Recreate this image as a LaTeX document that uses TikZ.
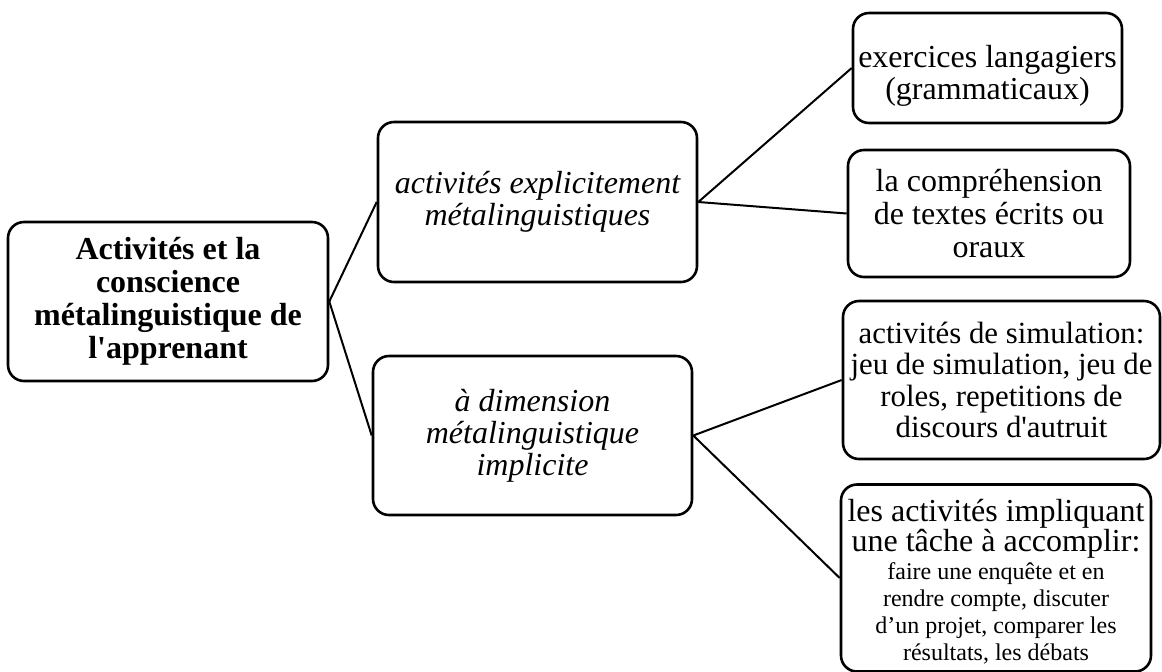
\documentclass[tikz,border=0pt]{standalone}
\usepackage{fontspec}
\setmainfont{Liberation Serif}
\usepackage{tikz}
\usetikzlibrary{positioning}
\newcommand{\smtxt}{\fontsize{12}{13.5}\selectfont}
\tikzset{
  box/.style={draw, line width=1.3pt, rounded corners=8pt, align=center, inner sep=1pt,
    font=\fontsize{16}{16.5}\selectfont},
  link/.style={line width=1pt},
}

\begin{document}
\begin{tikzpicture}[x=0.5pt,y=-0.5pt]
		\useasboundingbox (0,0) rectangle (1162,671);
		% root and the two branches
		\node[box, minimum width=160pt, minimum height=79.5pt, font=\fontsize{16}{16.5}\selectfont\bfseries] (root) at (168,301.5) {Activités et la\\ conscience\\ métalinguistique de\\ l\textquotesingle apprenant};
		\node[box, minimum width=159.5pt, minimum height=80pt, font=\fontsize{16}{16}\selectfont\itshape] (expl) at (537.5,202) {activités explicitement\\ métalinguistiques};
		\node[box, minimum width=159.5pt, minimum height=79.5pt, font=\fontsize{16}{16}\selectfont\itshape] (impl) at (532.5,435.5) {à dimension\\ métalinguistique\\ implicite};
		% leaves
		\node[box, minimum width=134.5pt, minimum height=55pt, font=\fontsize{16}{16}\selectfont] (exer) at (987.5,68) {\rule{0pt}{19pt}exercices langagiers\\ (grammaticaux)};
		\node[box, minimum width=141pt, minimum height=63.5pt] (compr) at (989,213.5) {la compréhension\\ de textes écrits ou\\ oraux};
		\node[box, minimum width=158.5pt, minimum height=79pt, font=\fontsize{15.4}{15.6}\selectfont] (simu) at (1001.5,380) {activités de simulation:\\ jeu de simulation, jeu de\\ roles, repetitions de\\ discours d\textquotesingle autruit};
		\node[box, minimum width=155pt, minimum height=93.5pt, font=\fontsize{16}{15}\selectfont] (tache) at (996,578) {\rule{0pt}{15pt}les activités impliquant\\ une tâche à accomplir:\\[-1pt]
			\smtxt faire une enquête et en\\[-1.5pt] \smtxt rendre compte, discuter\\[-1.5pt] \smtxt d’un projet, comparer les\\[-1.5pt] \smtxt résultats, les débats};
		% connectors
		\draw[link] (root.east) -- (expl.west);
		\draw[link] (root.east) -- (impl.west);
		\draw[link] (expl.east) -- (exer.west);
		\draw[link] (expl.east) -- (compr.west);
		\draw[link] (impl.east) -- (simu.west);
		\draw[link] (impl.east) -- (tache.west);
	\end{tikzpicture}
\end{document}
